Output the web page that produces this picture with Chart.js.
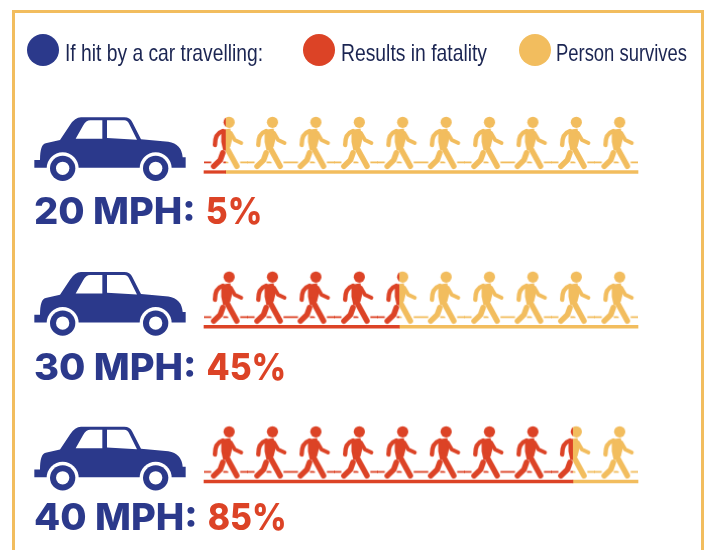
<!DOCTYPE html>
<html>
<head>
<meta charset="utf-8">
<style>
html, body { margin: 0; background: #fff; overflow: hidden; }
canvas { display: block; }
</style>
<script src="https://cdn.jsdelivr.net/npm/chart.js@4"></script>
</head>
<body>
<canvas id="speedChart" width="706" height="550"></canvas>
<script>
// values
const speeds = ['20 MPH', '30 MPH', '40 MPH'];
const fatalPct = [5, 45, 85];
const survivePct = [95, 55, 15];
const personCenters = [5, 15, 25, 35, 45, 55, 65, 75, 85, 95];
const legendLabels = ['If hit by a car travelling:', 'Results in fatality', 'Person survives'];

const NAVY = '#2b398b';
const RED = '#dc4326';
const YELLOW = '#f2bd5e';

// walker drawn once per split, anchored on the ground line
function walkerShape(c, color) {
    c.fillStyle = color;
    c.strokeStyle = color;
    c.lineCap = 'round';
    c.lineJoin = 'round';

    // ground dashes, cut around the feet
    c.fillRect(-22, -10.5, 7.5, 1.8);
    c.fillRect(-2.5, -10.5, 5, 1.8);
    c.fillRect(14.4, -10.5, 7.6, 1.8);

    c.beginPath();
    c.arc(3.4, -49.7, 5.6, 0, Math.PI * 2);
    c.fill();

    // torso
    c.beginPath();
    c.moveTo(-4.5, -42);
    c.lineTo(4.5, -43.5);
    c.lineTo(6.5, -33);
    c.lineTo(4.5, -25);
    c.lineTo(-2.5, -21);
    c.lineTo(-4.5, -30);
    c.closePath();
    c.fill();

    // back arm
    c.lineWidth = 4.4;
    c.beginPath();
    c.moveTo(-3, -41);
    c.quadraticCurveTo(-11, -38.5, -10.8, -27);
    c.stroke();

    // front arm
    c.lineWidth = 3.8;
    c.beginPath();
    c.moveTo(5, -39);
    c.lineTo(9, -32);
    c.lineTo(15.5, -29);
    c.stroke();

    // front leg
    c.lineWidth = 5.6;
    c.beginPath();
    c.moveTo(0, -26);
    c.lineTo(11, -5.8);
    c.stroke();

    // back leg, split from the front one by a thin gap
    c.save();
    c.globalCompositeOperation = 'destination-out';
    c.lineWidth = 1.1;
    c.lineCap = 'butt';
    c.beginPath();
    c.moveTo(-5, -23);
    c.lineTo(2.5, -10);
    c.stroke();
    c.restore();
    c.beginPath();
    c.moveTo(-3, -19);
    c.lineTo(-5.5, -12);
    c.lineTo(-12, -5.8);
    c.stroke();
}

function walkerIcon(redShare) {
    const icon = document.createElement('canvas');
    icon.width = 44;
    icon.height = 120;
    const c = icon.getContext('2d');
    c.translate(22, 60);
    [[RED, -22, 44 * redShare], [YELLOW, -22 + 44 * redShare, 44 * (1 - redShare)]].forEach(part => {
        if (part[2] <= 0) return;
        c.save();
        c.beginPath();
        c.rect(part[1], -60, part[2], 120);
        c.clip();
        walkerShape(c, part[0]);
        c.restore();
    });
    return icon;
}

function drawCar(c, x, y) {
    c.save();
    c.translate(x, y);
    c.scale(1 / 3, 1 / 3);
    c.fillStyle = NAVY;
    c.beginPath();
    c.moveTo(28, 165);
    c.lineTo(45, 165);
    c.quadraticCurveTo(45, 118, 62, 115);
    c.lineTo(105, 105);
    c.lineTo(135, 60);
    c.quadraticCurveTo(150, 37, 168, 37);
    c.lineTo(298, 37);
    c.quadraticCurveTo(315, 37, 322, 52);
    c.lineTo(348, 103);
    c.lineTo(430, 110);
    c.quadraticCurveTo(470, 116, 473, 157);
    c.lineTo(482, 157);
    c.lineTo(482, 188);
    c.lineTo(28, 188);
    c.closePath();
    c.fill();

    c.fillStyle = '#fff';
    c.beginPath();
    c.moveTo(152, 101);
    c.lineTo(174, 62);
    c.quadraticCurveTo(183, 46, 196, 46);
    c.lineTo(232, 46);
    c.lineTo(232, 101);
    c.closePath();
    c.fill();
    c.beginPath();
    c.moveTo(246, 46);
    c.lineTo(298, 46);
    c.quadraticCurveTo(308, 46, 313, 58);
    c.lineTo(336, 104);
    c.lineTo(246, 99);
    c.closePath();
    c.fill();

    [[113, 190], [392, 190]].forEach(w => {
        c.fillStyle = '#fff';
        c.beginPath();
        c.arc(w[0], w[1], 48, 0, Math.PI * 2);
        c.fill();
        c.fillStyle = NAVY;
        c.beginPath();
        c.arc(w[0], w[1], 38, 0, Math.PI * 2);
        c.fill();
        c.fillStyle = '#fff';
        c.beginPath();
        c.arc(w[0], w[1], 20, 0, Math.PI * 2);
        c.fill();
    });
    c.restore();
}

// stretched bold text, the nearest installed face has other widths than the original
function wideText(c, text, x, y, stretch) {
    c.save();
    c.translate(x, y);
    c.scale(stretch, 1);
    c.fillText(text, 0, 0);
    c.restore();
    return c.measureText(text).width * stretch;
}

// frame, legend, cars and speed captions
const decorations = {
    id: 'decorations',
    beforeDatasetsDraw(chart) {
        const c = chart.ctx;
        c.save();
        c.strokeStyle = YELLOW;
        c.lineWidth = 3;
        c.beginPath();
        c.moveTo(13.5, 560);
        c.lineTo(13.5, 11.5);
        c.lineTo(702.5, 11.5);
        c.lineTo(702.5, 560);
        c.stroke();

        const legendX = [43, 319, 535];
        const legendText = [65, 341, 556];
        const legendWidth = [198, 146, 131];
        [NAVY, RED, YELLOW].forEach((color, i) => {
            c.fillStyle = color;
            c.beginPath();
            c.arc(legendX[i], 50, 16, 0, Math.PI * 2);
            c.fill();
            c.fillStyle = '#1b2552';
            c.font = '24px "Liberation Sans Narrow", "Liberation Sans"';
            c.textBaseline = 'alphabetic';
            c.fillText(legendLabels[i], legendText[i], 61, legendWidth[i]);
        });
        c.restore();
    },
    afterDatasetsDraw(chart) {
        const c = chart.ctx;
        const yScale = chart.scales.y;
        const captionDrop = [52, 53, 48.5];
        c.save();
        speeds.forEach((speed, i) => {
            const y = yScale.getPixelForValue(i);
            drawCar(c, 25, y - 67);
            c.font = '800 37px Inter, sans-serif';
            c.fillStyle = NAVY;
            const w = wideText(c, speed + ':', 34, y + captionDrop[i], 1.03);
            c.fillStyle = RED;
            wideText(c, fatalPct[i] + '%', 34 + w + 10, y + captionDrop[i], 0.91);
        });
        c.restore();
    }
};

const walkerSets = speeds.map((speed, row) => ({
    type: 'scatter',
    label: speed,
    data: personCenters.map(x => ({ x: x, y: speed })),
    pointStyle: personCenters.map(x => walkerIcon(Math.min(1, Math.max(0, (fatalPct[row] - (x - 5)) / 10)))),
    pointRadius: 10,
    clip: false,
    order: 1
}));

new Chart(document.getElementById('speedChart'), {
    type: 'bar',
    data: {
        labels: speeds,
        datasets: [
            { label: legendLabels[1], data: fatalPct, backgroundColor: RED, indexAxis: 'y', stack: 'road', barThickness: 2.6, clip: false, order: 2 },
            { label: legendLabels[2], data: survivePct, backgroundColor: YELLOW, indexAxis: 'y', stack: 'road', barThickness: 2.6, clip: false, order: 2 },
            ...walkerSets
        ]
    },
    options: {
        responsive: false,
        animation: false,
        events: [],
        layout: { autoPadding: false, padding: { left: 204, right: 68, top: 172, bottom: 68.5 } },
        plugins: { legend: { display: false }, tooltip: { enabled: false } },
        scales: {
            x: { type: 'linear', min: 0, max: 100, offset: false, display: false },
            y: { type: 'category', offset: false, display: false }
        }
    },
    plugins: [decorations]
});
</script>
</body>
</html>
